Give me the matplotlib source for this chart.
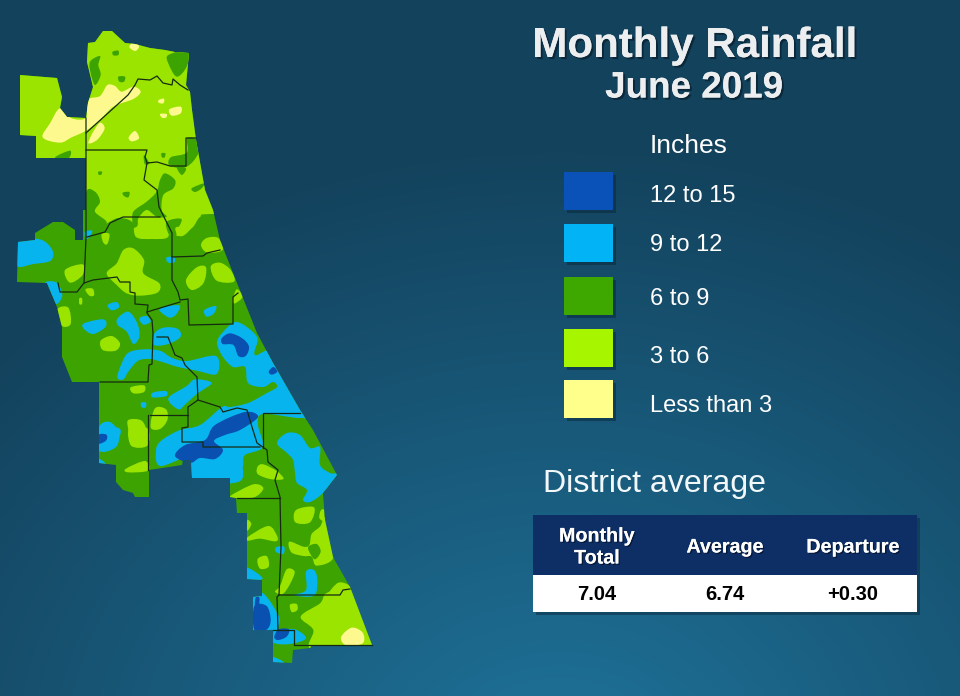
import numpy as np
import matplotlib
matplotlib.use("Agg")
import matplotlib.pyplot as plt
from matplotlib.patches import Polygon, Rectangle, PathPatch
from matplotlib.path import Path
import matplotlib.patheffects as pe

plt.rcParams['font.family'] = ['Liberation Sans', 'DejaVu Sans']

# ---- text / table values ----
TITLE = "Monthly Rainfall"
SUBTITLE = "June 2019"
LEGEND_TITLE = "Inches"
CLASS_LABELS = ["12 to 15", "9 to 12", "6 to 9", "3 to 6", "Less than 3"]
CLASS_COLORS = ["#0a52b8", "#02b4f5", "#3ea800", "#a8f500", "#ffff8c"]
MAP_COLORS = {"blue": "#0a50b0", "cyan": "#08b4ee", "dark": "#3da300", "light": "#9ae400", "yellow": "#fdf98e"}
TABLE_TITLE = "District average"
TABLE_HEAD = ["Monthly\nTotal", "Average", "Departure"]
TABLE_VALS = ["7.04", "6.74", "+0.30"]

# ---- map geometry (image-pixel coordinates of the map) ----
OUTLINE = [(88,43),(95,42),(103,31),(112,31),(125,43),(135,44),(150,48),(165,50),(175,52),(189,53),
 (186,85),(190,92),(192,110),(196,140),(205,190),(213,210),(220,240),(233,273),(257,333),(273,363),
 (300,410),(313,430),(337,475),(323,493),(325,520),(333,557),(350,587),(372,645),(312,645),(310,648),
 (293,650),(292,663),(273,662),(273,630),(253,630),(253,597),(262,596),(262,580),(247,579),(247,513),
 (237,513),(236,498),(230,497),(230,478),(192,478),(191,460),(183,460),(182,465),(149,470),(149,497),
 (135,497),(133,493),(123,490),(116,482),(116,465),(99,463),(99,382),(72,382),(62,357),(62,327),
 (57,307),(47,283),(17,282),(18,242),(35,240),(35,233),(53,222),(63,222),(75,230),(75,240),(83,240),
 (83,210),(86,210),(86,158),(36,158),(36,136),(20,135),(20,75),(57,78),(62,97),(60,108),(67,117),
 (86,118),(88,103),(93,87),(87,62)]

LIGHT_BASE = [(0,0),(150,-10),(300,0),(300,215),(212,214),(200,217),(192,228),(177,236),(178,222),(168,222),
 (168,237),(152,239),(136,237),(132,222),(118,218),(105,224),(92,224),(86,230),(84,205),(0,205)]

# shapes read in three crops: north (Z1), middle (Z2), south (Z3)
DARK_Z1 = [
 [(270,125),(300,108),(295,135),(302,165),(285,195),(272,160)],
 [(338,95),(355,92),(355,105),(340,106)],
 [(355,170),(375,170),(372,185),(358,185)],
 [(505,105),(565,92),(560,140),(530,170),(505,130)],
 [(165,412),(210,392),(205,415)],
 [(512,412),(560,398),(562,355),(592,360),(595,400),(560,440),(510,438)],
 [(530,440),(558,445),(545,465)],
 [(575,505),(612,490),(605,505),(585,516)],
 [(295,455),(306,455),(304,464),(296,464)],
 [(368,518),(388,516),(385,532),(372,528)],
 [(484,400),(496,400),(494,412),(486,412)],
 [(432,405),(448,430),(434,432)],
 [(258,518),(285,515),(300,545),(285,575),(320,610),(258,640)],
 [(320,620),(340,610),(370,600),(395,612),(400,575),(440,545),(470,515),(480,480),(495,460),(525,480),
  (520,505),(490,525),(485,570),(500,590),(470,590),(440,570),(415,595),(410,620),(370,630)],
 [(500,605),(545,598),(520,645),(505,640)],
]
DARK_Z3 = [
 [(655,350),(680,342),(692,365),(675,388),(660,370)],
]
LIGHT_Z2 = [
 [(320,130),(350,100),(370,60),(400,55),(432,90),(430,130),(478,160),(472,188),(420,197),(380,190),(350,165)],
 [(558,150),(590,112),(618,112),(610,160),(575,180)],
 [(632,110),(660,98),(692,120),(702,155),(650,152)],
 [(195,120),(248,103),(248,135),(210,158)],
 [(172,238),(205,233),(212,282),(185,287)],
 [(302,332),(335,318),(360,340),(347,362),(308,360)],
 [(392,472),(432,466),(432,486),(400,490)],
 [(385,570),(425,572),(442,610),(442,645),(395,648),(385,600)],
 [(452,592),(465,535),(498,538),(502,570),(480,597)],
 [(698,212),(710,178),(728,200),(705,220)],
 [(305,12),(328,12),(322,42),(310,38)],
 [(408,-8),(458,-8),(445,18),(418,22)],
 [(528,-8),(572,-8),(552,16),(534,16)],
 [(603,45),(620,24),(655,24),(668,60),(622,68)],
 [(238,205),(246,205),(246,222),(238,222)],
 [(256,178),(278,176),(282,196),(268,197)],
]
LIGHT_Z3 = [
 [(118,-5),(172,-5),(172,47),(124,47)],
 [(108,116),(165,93),(174,122),(114,127)],
 [(503,110),(520,103),(560,123),(580,147),(540,147),(503,132)],
 [(422,197),(490,163),(520,175),(492,202),(430,204)],
 [(618,240),(672,232),(660,277),(616,277)],
 [(692,242),(702,240),(702,272),(688,264)],
 [(472,322),(535,288),(562,320),(556,334),(510,326),(474,332)],
 [(472,270),(484,282),(472,302)],
 [(503,387),(530,378),(536,410),(510,416)],
 [(598,335),(640,350),(658,345),(665,312),(690,290),(708,265),(732,378),(680,407),(665,380),(640,378),(604,367)],
 [(555,485),(570,468),(590,418),(614,425),(600,462),(578,492)],
 [(715,495),(745,458),(780,470),(752,498)],
 [(600,524),(620,522),(622,540),(605,546)],
 [(632,560),(690,520),(712,488),(790,478),(860,660),(668,660),(670,600)],
]
YELLOW_Z1 = [
 [(128,352),(150,310),(180,265),(215,295),(258,293),(262,240),(300,228),(322,195),(345,198),(365,215),
  (400,200),(422,215),(400,237),(340,260),(300,300),(258,332),(215,352),(180,368)],
 [(265,367),(280,335),(300,308),(314,325),(295,356),(275,369)],
 [(388,80),(405,63),(417,80),(405,93)],
 [(476,240),(492,236),(490,250),(476,248)],
 [(508,268),(542,260),(542,280),(515,287)],
 [(480,282),(500,282),(498,293),(486,293)],
 [(386,352),(405,333),(417,355),(395,364)],
]
YELLOW_Z3 = [
 [(753,622),(785,593),(818,608),(818,640),(770,647)],
]
CYAN_PX = [
 [(217,343),(223,332),(237,322),(257,337),(255,355),(277,353),(312,412),(300,418),(263,414),(258,425),
  (263,447),(245,455),(243,466),(238,482),(192,482),(189,458),(160,466),(156,450),(162,440),(180,430),
  (200,425),(222,407),(230,407),(248,403),(267,393),(277,387),(273,382),(263,387),(248,383),(245,367),
  (233,367),(223,357)],
 [(277,443),(287,433),(300,435),(310,448),(320,447),(320,465),(330,473),(337,475),(323,493),(310,502),
  (303,500),(307,490),(297,483),(295,473),(293,460),(287,453)],
]
CYAN_Z2 = [
 [(50,35),(120,28),(157,60),(152,92),(100,102),(50,107)],
 [(135,158),(170,158),(187,195),(170,222),(155,195)],
 [(323,225),(350,216),(357,232),(335,241)],
 [(500,82),(523,82),(523,97),(503,97)],
 [(252,280),(310,268),(317,290),(280,312),(252,297)],
 [(353,265),(385,245),(412,280),(418,320),(400,342),(380,305),(353,285)],
 [(418,265),(440,258),(452,275),(430,284)],
 [(478,236),(538,226),(527,255),(505,262)],
 [(613,240),(648,228),(642,250),(620,260)],
 [(462,312),(490,293),(532,296),(542,320),(505,342),(462,345)],
 [(352,442),(365,400),(385,368),(430,358),(480,362),(515,383),(560,393),(648,378),(650,432),(590,422),
  (530,410),(490,397),(450,387),(415,392),(387,422),(370,448)],
 [(458,488),(497,483),(499,498),(458,502)],
 [(423,518),(438,518),(437,532),(425,532)],
 [(505,505),(560,468),(585,448),(635,458),(605,482),(590,492),(557,522),(535,538)],
 [(255,5),(277,3),(263,27),(256,25)],
 [(298,590),(330,576),(357,610),(347,652),(298,662)],
]
CYAN_Z3 = [
 [(25,-5),(88,-5),(82,30),(35,60),(25,60)],
 [(25,85),(48,102),(25,102)],
 [(468,412),(518,445),(468,452)],
 [(486,497),(522,492),(567,560),(567,598),(615,598),(648,625),(600,642),(548,637),(548,600),(486,602)],
 [(558,352),(582,350),(580,372),(558,366)],
 [(612,495),(648,480),(648,425),(672,420),(682,450),(672,497)],
 [(545,680),(582,697),(545,700)],
 [(458,55),(490,53),(482,68),(462,66)],
]
BLUE_Z2 = [
 [(665,325),(690,310),(727,325),(747,350),(737,378),(715,378),(700,345),(668,342)],
 [(806,425),(820,411),(832,425),(815,434)],
 [(297,615),(320,615),(318,632),(297,640)],
]
BLUE_PX = [
 [(175,456),(185,445),(205,440),(215,425),(245,412),(258,417),(240,430),(225,435),(214,441),(223,450),
  (215,459),(200,458),(190,463)],
]
BLUE_Z3 = [
 [(27,14),(48,14),(45,30),(27,40)],
 [(493,528),(530,528),(542,570),(530,599),(493,599)],
 [(497,503),(508,503),(506,526),(495,526)],
 [(553,622),(565,598),(597,598),(590,620),(565,630)],
]

COUNTY_LINES = [
 [(86,133),(128,95),(135,85),(138,79),(150,80),(157,76),(163,83),(172,85),(173,79),(180,85),(188,90)],
 [(86,118),(86,238),(84,283)],
 [(86,150),(147,150),(145,157),(147,163),(157,162),(170,166),(186,166),(186,138),(196,138)],
 [(147,163),(144,180),(157,190),(159,207),(172,233),(172,280),(178,292),(180,300),(188,299),(189,325),
  (233,324),(233,297),(238,293)],
 [(87,237),(105,232),(110,223),(123,217),(160,217)],
 [(172,257),(203,256),(207,253),(220,250)],
 [(58,283),(60,292),(77,292),(84,283),(93,280),(117,277),(120,282),(130,282),(130,292),(135,293),(135,304),
  (148,305),(147,313),(152,320),(153,333),(152,364),(149,365),(148,382),(100,382)],
 [(147,312),(180,302)],
 [(157,337),(168,337),(175,355),(182,358),(185,365),(197,377),(198,400),(188,407),(188,427),(182,428),
  (182,442),(203,442),(203,447),(260,447)],
 [(198,400),(220,407),(223,412),(237,408),(247,410),(252,427),(257,443),(267,450),(268,462),(278,470),
  (275,480),(280,497),(281,547),(279,595),(277,597),(278,630)],
 [(263,448),(263,413),(300,413)],
 [(150,415),(188,415)],
 [(148,415),(148,470)],
 [(237,498),(280,498)],
 [(279,595),(340,595),(343,590),(350,589)],
 [(273,630),(294,630),(294,645),(372,645)],
]


def z1(s): return [(x / 3, 20 + y / 3) for x, y in s]
def z2(s): return [(x / 3, 230 + y / 3) for x, y in s]
def z3(s): return [(90 + x / 3, 430 + y / 3) for x, y in s]


def blob(points):
    """Closed smooth shape passing through points (Catmull-Rom)."""
    p = np.array(points, float)
    prev, nxt, nxt2 = np.roll(p, 1, axis=0), np.roll(p, -1, axis=0), np.roll(p, -2, axis=0)
    c1 = p + (nxt - prev) / 6
    c2 = nxt - (nxt2 - p) / 6
    verts, codes = [p[0]], [Path.MOVETO]
    for i in range(len(p)):
        verts += [c1[i], c2[i], nxt[i]]
        codes += [Path.CURVE4] * 3
    return Path(verts, codes)


fig = plt.figure(figsize=(9.6, 6.96), dpi=100)
ax = fig.add_axes([0, 0, 1, 1])
ax.set_xlim(0, 960)
ax.set_ylim(696, 0)
ax.axis("off")

# background gradient
yy, xx = np.mgrid[0:696, 0:960]
d = np.clip(np.hypot((xx - 560) / 760, (yy - 780) / 640), 0, 1)[..., None]
c_in = np.array([0x1f, 0x74, 0x9c]) / 255
c_out = np.array([0x13, 0x42, 0x5c]) / 255
ax.imshow(c_in * (1 - d) + c_out * d, extent=(0, 960, 696, 0), aspect="auto", zorder=0)

# map
clip = Polygon(OUTLINE, closed=True, fc=MAP_COLORS["dark"], ec="none", zorder=1)
ax.add_patch(clip)


def add(shape, key, z):
    pt = PathPatch(blob(shape), fc=MAP_COLORS[key], ec="none", zorder=z)
    ax.add_patch(pt)
    pt.set_clip_path(clip)


add(LIGHT_BASE, "light", 2)
for s in DARK_Z1: add(z1(s), "dark", 3)
for s in LIGHT_Z2: add(z2(s), "light", 4)
for s in LIGHT_Z3: add(z3(s), "light", 4)
for s in DARK_Z3: add(z3(s), "dark", 4.5)
for s in YELLOW_Z1: add(z1(s), "yellow", 5)
for s in YELLOW_Z3: add(z3(s), "yellow", 5)
for s in CYAN_PX: add(s, "cyan", 6)
for s in CYAN_Z2: add(z2(s), "cyan", 6)
for s in CYAN_Z3: add(z3(s), "cyan", 6)
for s in BLUE_PX: add(s, "blue", 7)
for s in BLUE_Z2: add(z2(s), "blue", 7)
for s in BLUE_Z3: add(z3(s), "blue", 7)
for ln in COUNTY_LINES:
    a = np.array(ln)
    ax.plot(a[:, 0], a[:, 1], color="#152a12", lw=0.9, zorder=8, solid_joinstyle="round")

# titles
shadow = [pe.withSimplePatchShadow(offset=(1.5, -1.5), shadow_rgbFace="#0a2233", alpha=0.8), pe.Normal()]
ax.text(695, 46, TITLE, color="#eceeef", fontsize=30.3, fontweight="bold", ha="center", va="center",
        path_effects=shadow, zorder=9)
ax.text(694, 88, SUBTITLE, color="#eceeef", fontsize=26.5, fontweight="bold", ha="center", va="center",
        path_effects=shadow, zorder=9)

# legend
ax.text(650, 146, LEGEND_TITLE, color="white", fontsize=19, ha="left", va="center", zorder=9)
tops = [172, 224, 277, 329, 380]
label_y = [196, 245, 299, 357, 406]
for lab, col, t, ly in zip(CLASS_LABELS, CLASS_COLORS, tops, label_y):
    ax.add_patch(Rectangle((567, t + 3), 49, 38, fc="#0a2a3e", ec="none", alpha=0.55, zorder=8))
    ax.add_patch(Rectangle((564, t), 49, 38, fc=col, ec="none", zorder=9))
    ax.text(650, ly, lab, color="white", fontsize=17, ha="left", va="center", zorder=9)

# table
ax.text(543, 484, TABLE_TITLE, color="#f2f8fa", fontsize=23.1, ha="left", va="center", zorder=9)
ax.add_patch(Rectangle((536, 518), 384, 97, fc="#0a2a3e", ec="none", alpha=0.5, zorder=8))
ax.add_patch(Rectangle((533, 515), 384, 60, fc="#0e2f66", ec="none", zorder=9))
ax.add_patch(Rectangle((533, 575), 384, 37, fc="white", ec="none", zorder=9))
for x, h, v in zip([597, 725, 853], TABLE_HEAD, TABLE_VALS):
    ax.text(x, 547, h, color="white", fontsize=14.2, fontweight="bold", ha="center", va="center",
            linespacing=1.2, zorder=10,
            path_effects=[pe.withSimplePatchShadow(offset=(1, -1), shadow_rgbFace="#05152e", alpha=0.8), pe.Normal()])
    ax.text(x, 595, v, color="black", fontsize=14.5, fontweight="bold", ha="center", va="center", zorder=10)

fig.savefig("out.png", dpi=100)
